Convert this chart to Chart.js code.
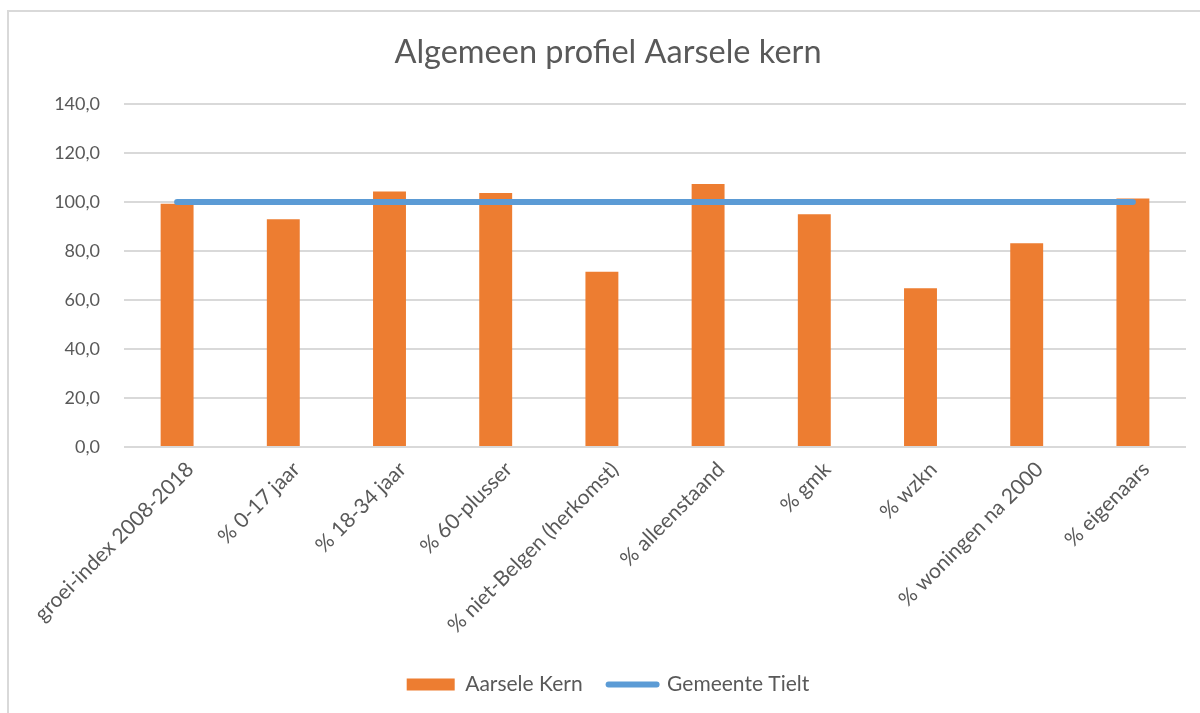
<!DOCTYPE html>
<html>
<head>
<meta charset="utf-8">
<script src="https://cdn.jsdelivr.net/npm/chart.js@4/dist/chart.umd.min.js"></script>
<style>
  html, body { margin: 0; padding: 0; background: #fff; }
  #wrap { position: relative; width: 1200px; height: 713px; overflow: hidden; }
  #frame { position: absolute; left: 7px; top: 10px; width: 1300px; height: 800px; border: 2px solid #d9d9d9; box-sizing: border-box; }
  #chart { position: absolute; left: 0; top: 0; }
</style>
</head>
<body>
<div id="wrap">
  <div id="frame"></div>
  <canvas id="chart" width="1200" height="713"></canvas>
</div>
<script>
const categories = ['groei-index 2008-2018', '% 0-17 jaar', '% 18-34 jaar', '% 60-plusser',
  '% niet-Belgen (herkomst)', '% alleenstaand', '% gmk', '% wzkn', '% woningen na 2000', '% eigenaars'];
const aarseleKern = [99.3, 93.0, 104.3, 103.7, 71.5, 107.3, 95.0, 64.8, 83.2, 101.4];
const gemeenteTielt = [100, 100, 100, 100, 100, 100, 100, 100, 100, 100];
const yTicks = [0, 20, 40, 60, 80, 100, 120, 140];

const textColor = '#595959';
const fontFamily = 'Lato, "Open Sans", sans-serif';

document.addEventListener('DOMContentLoaded', function () {
  const ctx = document.getElementById('chart');
  new Chart(ctx, {
    data: {
      labels: categories,
      datasets: [
        {
          type: 'line',
          label: 'Gemeente Tielt',
          data: gemeenteTielt,
          borderColor: '#5b9bd5',
          backgroundColor: '#5b9bd5',
          borderWidth: 6,
          borderCapStyle: 'round',
          pointRadius: 0,
          order: 0
        },
        {
          type: 'bar',
          label: 'Aarsele Kern',
          data: aarseleKern,
          backgroundColor: '#ed7d31',
          categoryPercentage: 1,
          barPercentage: 0.31,
          order: 1
        }
      ]
    },
    options: {
      responsive: false,
      animation: false,
      layout: { padding: { left: 30, right: 14, top: 20, bottom: 8 } },
      plugins: {
        title: {
          display: true,
          text: 'Algemeen profiel Aarsele kern',
          color: textColor,
          font: { family: fontFamily, size: 32.5, weight: 'normal' },
          padding: { top: 13, bottom: 32 }
        },
        legend: {
          position: 'bottom',
          reverse: true,
          labels: {
            color: textColor,
            font: { family: fontFamily, size: 21 },
            usePointStyle: true,
            pointStyleWidth: 48,
            boxHeight: 12,
            padding: 26,
            generateLabels: function (chart) {
              const items = Chart.defaults.plugins.legend.labels.generateLabels(chart);
              items.forEach(function (it) {
                if (it.datasetIndex === 0) { it.pointStyle = 'line'; it.lineWidth = 6; it.lineCap = 'round'; }
                else { it.pointStyle = 'rect'; it.lineWidth = 0; }
              });
              return items;
            }
          }
        },
        tooltip: { enabled: false }
      },
      scales: {
        x: {
          grid: { display: false },
          border: { display: false },
          afterFit: function (axis) { axis.height = 201; },
          ticks: {
            color: textColor,
            font: { family: fontFamily, size: 21 },
            minRotation: 45,
            maxRotation: 45,
            labelOffset: 13,
            padding: 2
          }
        },
        y: {
          min: 0,
          max: 140,
          afterBuildTicks: function (axis) { axis.ticks = yTicks.map(v => ({ value: v })); },
          afterFit: function (axis) { axis.width = 94; },
          grid: { color: '#d9d9d9', lineWidth: 2, drawTicks: false },
          border: { display: false },
          ticks: {
            color: textColor,
            font: { family: fontFamily, size: 18 },
            padding: 24,
            callback: v => v.toFixed(1).replace('.', ',')
          }
        }
      }
    }
  });
});
</script>
</body>
</html>
